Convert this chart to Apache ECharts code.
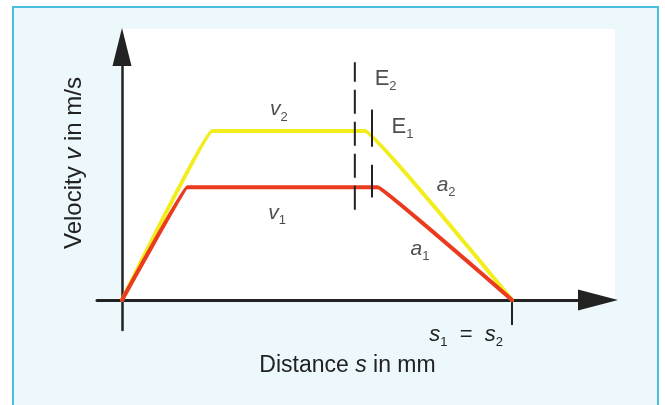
<!DOCTYPE html>
<html>
<head>
<meta charset="utf-8">
<script src="https://cdn.jsdelivr.net/npm/echarts@6/dist/echarts.min.js"></script>
<style>
  html, body { margin: 0; padding: 0; background: #ffffff; }
  #chart { width: 665px; height: 405px; }
</style>
</head>
<body>
<div id="chart"></div>
<script>
// Velocity profiles over the positioning distance (s in mm, v in m/s)
const distanceV2 = [0, 23.1, 62.3, 100];
const velocityV2 = [0, 1.5, 1.5, 0];
const distanceV1 = [0, 16.7, 65.6, 100];
const velocityV1 = [0, 1.0, 1.0, 0];

// Braking start markers
const e2Distance = 59.7;
const e2Span = [0.80, 2.11];
const e1Distance = 64.1;
const e1Spans = [[0.91, 1.20], [1.36, 1.69]];

// Common end position s1 = s2
const endDistance = 100;

const FONT = '"Liberation Sans", Arial, Helvetica, sans-serif';
const INK = '#222222';

const pairs = (xs, ys) => xs.map((x, i) => [x, ys[i]]);

const richText = (size) => ({
  n: { fontFamily: FONT, fontSize: size, color: INK, lineHeight: 28 },
  i: { fontFamily: FONT, fontSize: size, fontStyle: 'italic', color: INK, lineHeight: 28 },
  sub: { fontFamily: FONT, fontSize: 13, color: INK, verticalAlign: 'bottom', lineHeight: 15 }
});

// Text annotations placed in data coordinates
const notes = [
  { pos: [40.2, 1.69], text: '{i|v}{sub|2}', size: 21 },
  { pos: [39.8, 0.77], text: '{i|v}{sub|1}', size: 21 },
  { pos: [83.1, 1.02], text: '{i|a}{sub|2}', size: 21 },
  { pos: [76.4, 0.45], text: '{i|a}{sub|1}', size: 21 },
  { pos: [67.6, 1.96], text: '{n|E}{sub|2}', size: 22 },
  { pos: [71.9, 1.54], text: '{n|E}{sub|1}', size: 22 }
];

const chart = echarts.init(document.getElementById('chart'), null, { renderer: 'canvas' });

const series = [
  {
    name: 'v2', type: 'line', data: pairs(distanceV2, velocityV2),
    symbol: 'none', z: 3, smooth: 0.05,
    lineStyle: { color: '#f2ee1c', width: 4, join: 'round', cap: 'round' }
  },
  {
    name: 'v1', type: 'line', data: pairs(distanceV1, velocityV1),
    symbol: 'none', z: 4, smooth: 0.03,
    lineStyle: { color: '#eb3b1e', width: 4, join: 'round', cap: 'round' }
  },
  {
    name: 'E2', type: 'line', data: e2Span.map(v => [e2Distance, v]),
    symbol: 'none', z: 5,
    lineStyle: { color: INK, width: 2, type: [24, 8] }
  }
].concat(e1Spans.map((span, k) => ({
  name: 'E1-' + k, type: 'line', data: span.map(v => [e1Distance, v]),
  symbol: 'none', z: 5,
  lineStyle: { color: INK, width: 2 }
}))).concat([{
  name: 'notes', type: 'scatter', z: 6, symbolSize: 1,
  itemStyle: { color: 'transparent' },
  data: notes.map(n => ({
    value: n.pos,
    label: { show: true, position: 'inside', formatter: n.text, rich: richText(n.size) }
  }))
}]);

chart.setOption({
  animation: false,
  backgroundColor: '#ffffff',
  graphic: [
    {
      type: 'rect', z: -20, silent: true,
      shape: { x: 13, y: 7, width: 645, height: 420 },
      style: { fill: '#ecf8fc', stroke: '#49bfe0', lineWidth: 2 }
    },
    {
      type: 'rect', z: -19, silent: true,
      shape: { x: 122, y: 29, width: 493, height: 271 },
      style: { fill: '#ffffff' }
    }
  ],
  grid: { left: 97, right: 67, top: 47, bottom: 75, containLabel: false, outerBoundsMode: 'none' },
  xAxis: {
    type: 'value', min: -6.41, max: 122.05,
    splitLine: { show: false },
    axisLine: {
      onZero: true, symbol: ['none', 'triangle'], symbolSize: [21, 40],
      lineStyle: { color: INK, width: 3 }
    },
    axisTick: {
      show: true, customValues: [endDistance], length: 25, inside: false,
      lineStyle: { color: INK, width: 2 }
    },
    axisLabel: {
      show: true, customValues: [endDistance], margin: -9, align: 'right',
      padding: [0, 9, 0, 0],
      formatter: () => '{i|s}{sub|1}{n|  =  }{i|s}{sub|2}',
      rich: richText(22)
    },
    name: 'Distance {i|s} in mm', nameLocation: 'middle', nameGap: 12,
    nameTextStyle: {
      fontFamily: FONT, fontSize: 23, color: INK,
      rich: { i: { fontFamily: FONT, fontSize: 23, fontStyle: 'italic', color: INK } }
    }
  },
  yAxis: {
    type: 'value', min: -0.266, max: 2.245,
    splitLine: { show: false },
    axisLine: {
      onZero: true, symbol: ['none', 'triangle'], symbolSize: [19, 38],
      lineStyle: { color: INK, width: 2.5 }
    },
    axisTick: { show: false },
    axisLabel: { show: false },
    name: 'Velocity {i|v} in m/s', nameLocation: 'middle', nameRotate: 90, nameGap: 11,
    nameTextStyle: {
      fontFamily: FONT, fontSize: 24, color: INK, padding: [0, 0, 0, 51],
      rich: { i: { fontFamily: FONT, fontSize: 24, fontStyle: 'italic', color: INK } }
    }
  },
  series: series
});
</script>
</body>
</html>
